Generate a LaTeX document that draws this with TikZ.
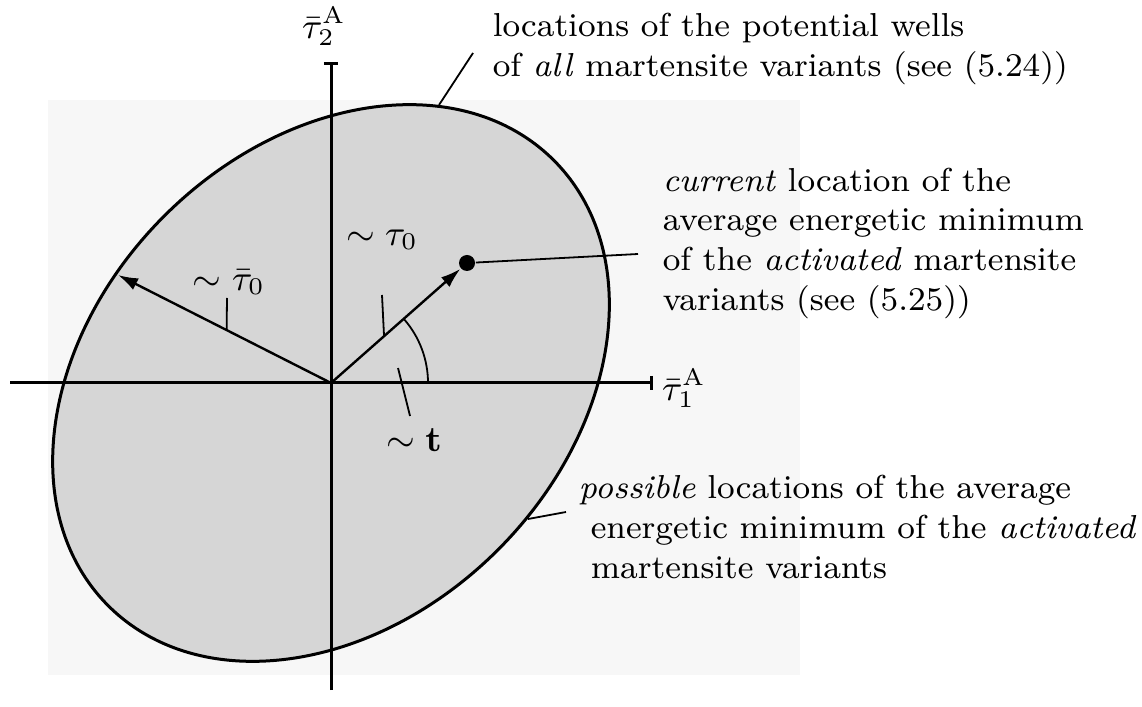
\documentclass[tikz,border=0pt]{standalone}
\usetikzlibrary{arrows.meta,calc}
\begin{document}
\begin{tikzpicture}[x=0.25pt,y=0.25pt,
  every node/.style={font=\fontsize{8.7}{10}\selectfont, inner sep=0pt},
  lbl/.style={anchor=mid west, font=\fontsize{8.3}{10}\selectfont},
  axisline/.style={line width=0.75pt},
  vec/.style={line width=0.6pt,-{Latex[length=5pt,width=3.2pt]}},
  lead/.style={line width=0.45pt}]
\useasboundingbox (0,0) rectangle (1142,706);
% faint scan background
\fill[black!3] (48,31) rectangle (800,606);
\coordinate (O) at (331,323);
% region of wells
\filldraw[fill=black!16, draw=black, line width=0.75pt, rotate around={45:(O)}] (O) ellipse [x radius=315, y radius=236];
% axes
\coordinate (xa) at (10,323);
\coordinate (xb) at (653,323);
\coordinate (ya) at (331,16);
\coordinate (yb) at (331,644);
\draw[axisline,-{Bar[width=3.6pt]}] (xa) -- (xb);
\draw[axisline,-{Bar[width=3.6pt]}] (ya) -- (yb);
\node (x1) at (684,318) {$\bar\tau_1^{\mathrm{A}}$};
\node (x2) at (324,680) {$\bar\tau_2^{\mathrm{A}}$};
% vectors
\coordinate (L) at (118,431);
\node[circle, fill=black, minimum size=4pt] (dot) at (467,443) {};
\draw[vec] (O) -- (L);
\draw[vec] (O) -- (dot);
% angle
\draw[lead] ($(O)+(97,0)$) arc[start angle=0, end angle=41.4, radius=97];
% labels with ticks
\node (tb0) at (229,424) {$\sim\bar\tau_0$};
\draw[lead] (227,408) -- ($(O)!0.49!(L)$);
\node (t0) at (382,466) {$\sim\tau_0$};
\draw[lead] (382,411) -- ($(O)!0.39!(dot)$);
\node (tt) at (414,266) {$\sim\mathbf{t}$};
\coordinate (tin) at (398,338);
\draw[lead] (tin) -- (410,290);
% leader lines
\coordinate (le1) at (473,653);
\draw[lead] (439,601) -- (le1);
\coordinate (le2) at (638,452);
\draw[lead] (dot) -- (le2);
\coordinate (le3a) at (528,187);
\coordinate (le3b) at (566,194);
\draw[lead] (le3a) -- (le3b);
% texts
\node[lbl] (a1) at (492,678) {locations of the potential wells};
\node[lbl] (a2) at (492,638) {of \emph{all} martensite variants (see (5.24))};
\node[lbl] (b1) at (662,523) {\emph{current} location of the};
\node[lbl] (b2) at (662,484) {average energetic minimum};
\node[lbl] (b3) at (662,444) {of the \emph{activated} martensite};
\node[lbl] (b4) at (662,404) {variants (see (5.25))};
\node[lbl] (c1) at (578,216) {\emph{possible} locations of the average};
\node[lbl] (c2) at (590,176) {energetic minimum of the \emph{activated}};
\node[lbl] (c3) at (590,136) {martensite variants};
\end{tikzpicture}
\end{document}
